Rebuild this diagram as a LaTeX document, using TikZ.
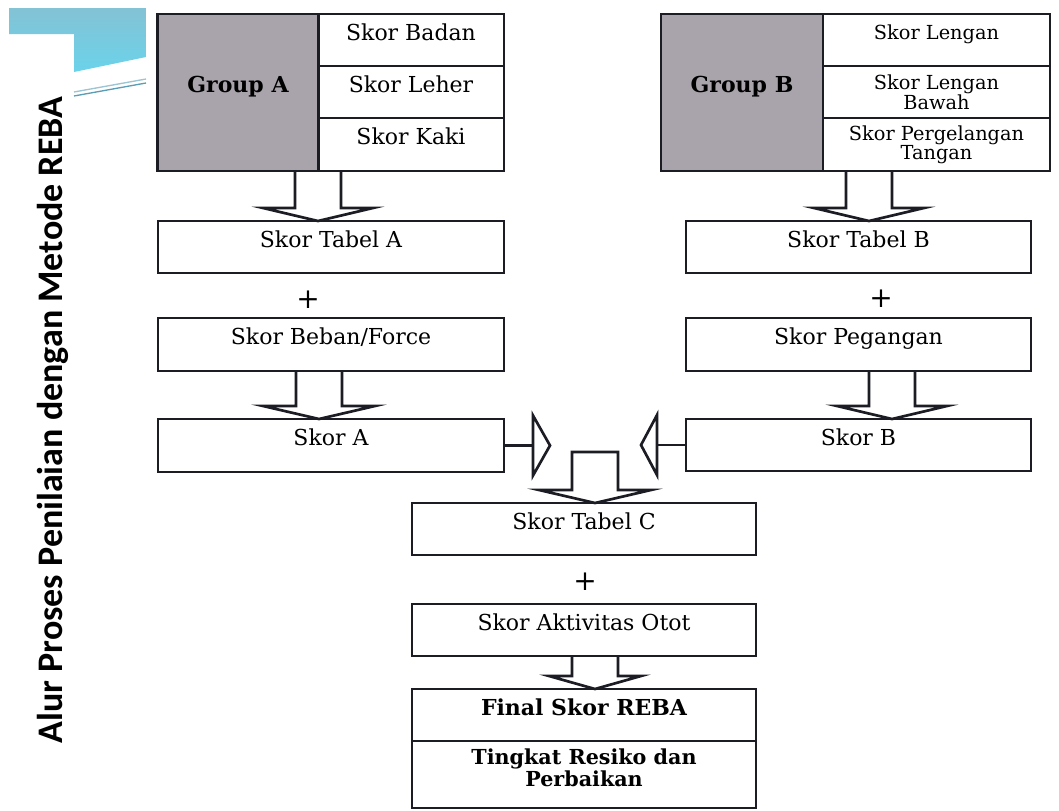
\documentclass[tikz,border=0pt]{standalone}
\usepackage{fontspec}
\setmainfont{DejaVu Serif}
\newfontfamily\titlefont{Carlito}
\usepackage{tikz}
\usetikzlibrary{positioning,calc}

\definecolor{inkc}{HTML}{1C1C24}
\definecolor{cellgray}{HTML}{A9A4AB}
\definecolor{bandtop}{HTML}{84C2D5}
\definecolor{bandbot}{HTML}{6AD3EA}
\definecolor{rulecol}{HTML}{5A9DB4}

\newcommand{\px}{0.75pt}
\newcommand{\bodyfont}{\fontsize{16.5}{18}\selectfont}
\newcommand{\cellfont}{\fontsize{14.5}{14}\selectfont}
\newcommand{\flowdown}[4]{%
  \draw[blockarr] ($(#3,0 |- #1.south)+(-23,0)$) -- ($(#3,0 |- #2.north)+(-23,-13)$)
    -- ($(#3,0 |- #2.north)+(-#4,-13)$) -- (#3,0 |- #2.north)
    -- ($(#3,0 |- #2.north)+(#4,-13)$) -- ($(#3,0 |- #2.north)+(23,-13)$)
    -- ($(#3,0 |- #1.south)+(23,0)$);}

\begin{document}
\begin{tikzpicture}[x=0.75pt,y=-0.75pt,
  box/.style={draw=inkc,line width=2pt,inner sep=0pt,outer sep=0pt,align=center,font=\bodyfont},
  liftup/.style={text depth=12.5pt},
  grpcell/.style={box,liftup,fill=cellgray,font=\bodyfont\bfseries},
  blockarr/.style={draw=inkc,line width=2pt,line join=miter},
  plus/.style={font=\fontsize{21}{21}\selectfont,inner sep=0pt}]
  \fill[white] (0,0) rectangle (1059,810);
  \useasboundingbox (0,0) rectangle (1059,810);

  \shade[top color=bandtop,bottom color=bandbot] (9,8) -- (146,8) -- (146,57) -- (74,72) -- (74,34) -- (9,34) -- cycle;
  \draw[rulecol!60,line width=1pt] (74,92) -- (146,79);
  \draw[rulecol,line width=1pt] (74,96) -- (146,83);
  \node[rotate=90,anchor=base,font=\titlefont\bfseries\fontsize{27}{27}\selectfont] (title) at (62,420) {Alur Proses Penilaian dengan Metode REBA};

  \node[grpcell,minimum width=161*\px,minimum height=157*\px] (grpA) at (238,92.5) {Group A};
  \node[box,liftup,minimum width=186*\px,minimum height=52*\px] (badan) at (411,40) {Skor Badan};
  \node[box,liftup,minimum width=186*\px,minimum height=52*\px,below=0pt of badan] (leher) {Skor Leher};
  \node[box,liftup,minimum width=186*\px,minimum height=53*\px,below=0pt of leher] (kaki) {Skor Kaki};
  \node[box,liftup,minimum width=346*\px,minimum height=52*\px] (tabA) at (331,247) {Skor Tabel A};
  \node[plus] (plusA) at (308,300) {+};
  \node[box,liftup,minimum width=346*\px,minimum height=53*\px] (beban) at (331,344.5) {Skor Beban/Force};
  \node[box,liftup,minimum width=346*\px,minimum height=53*\px] (skorA) at (331,445.5) {Skor A};

  \node[grpcell,minimum width=162*\px,minimum height=157*\px] (grpB) at (742,92.5) {Group B};
  \node[box,liftup,font=\cellfont,minimum width=227*\px,minimum height=52*\px] (lengan) at (936.5,40) {Skor Lengan};
  \node[box,font=\cellfont,minimum width=227*\px,minimum height=52*\px,below=0pt of lengan] (bawah) {Skor Lengan\\Bawah};
  \node[box,font=\cellfont,minimum width=227*\px,minimum height=53*\px,below=0pt of bawah] (tangan) {Skor Pergelangan\\Tangan};
  \node[box,liftup,minimum width=345*\px,minimum height=52*\px] (tabB) at (858.5,247) {Skor Tabel B};
  \node[plus] (plusB) at (881,299) {+};
  \node[box,liftup,minimum width=345*\px,minimum height=53*\px] (pegangan) at (858.5,344.5) {Skor Pegangan};
  \node[box,liftup,minimum width=345*\px,minimum height=52*\px] (skorB) at (858.5,445) {Skor B};

  \node[box,liftup,minimum width=344*\px,minimum height=52*\px] (tabC) at (584,529) {Skor Tabel C};
  \node[plus] (plusC) at (585,582) {+};
  \node[box,liftup,minimum width=344*\px,minimum height=52*\px] (otot) at (584,630) {Skor Aktivitas Otot};
  \node[box,liftup,font=\bodyfont\bfseries,minimum width=344*\px,minimum height=52*\px] (final) at (584,715) {Final Skor REBA};
  \node[box,text depth=10pt,font=\fontsize{15.5}{16.5}\selectfont\bfseries,minimum width=344*\px,minimum height=67*\px,below=0pt of final] (tingkat) {Tingkat Resiko dan\\Perbaikan};

  \flowdown{kaki}{tabA}{318}{55}
  \flowdown{beban}{skorA}{319}{56}
  \flowdown{tangan}{tabB}{869}{55}
  \flowdown{pegangan}{skorB}{892}{55}
  \flowdown{otot}{final}{595}{46}

  \coordinate (ctop) at (595,452);
  \draw[blockarr] ($(ctop)+(-23,0)$) -- ($(ctop |- tabC.north)+(-23,-13)$) -- ($(ctop |- tabC.north)+(-56,-13)$)
    -- (ctop |- tabC.north) -- ($(ctop |- tabC.north)+(56,-13)$) -- ($(ctop |- tabC.north)+(23,-13)$)
    -- ($(ctop)+(23,0)$) -- cycle;

  \draw[blockarr] (skorA.east) -- ++(29,0) coordinate (baseA);
  \draw[blockarr] ($(baseA)+(0,-30)$) -- ($(baseA)+(17,0)$) -- ($(baseA)+(0,30)$) -- cycle;
  \draw[blockarr] (skorB.west) -- ++(-29,0) coordinate (baseB);
  \draw[blockarr] ($(baseB)+(0,-30)$) -- ($(baseB)+(-16,0)$) -- ($(baseB)+(0,30)$) -- cycle;
\end{tikzpicture}
\end{document}
